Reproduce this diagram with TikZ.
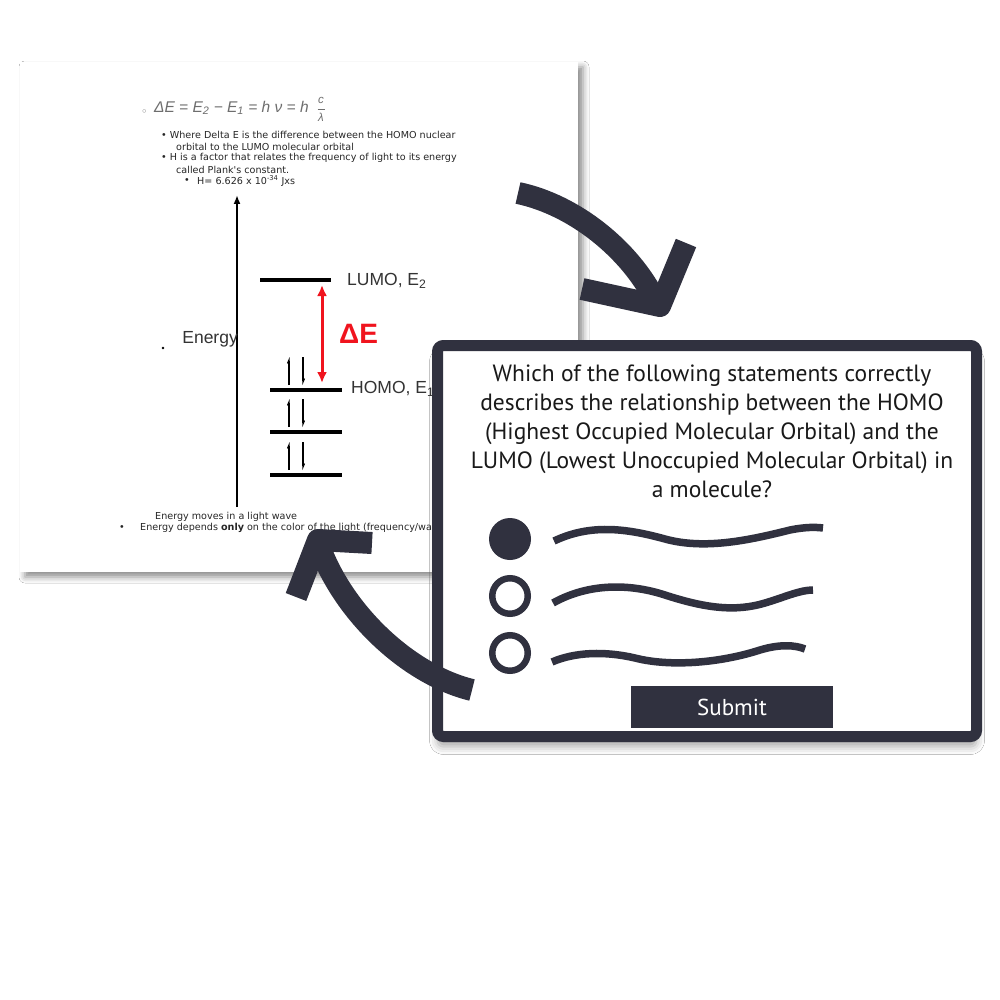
\documentclass[tikz,border=0pt]{standalone}
\usepackage{fontspec}
\setmainfont{PT Sans}
\newfontfamily\slidefont{DejaVu Sans}
\newfontfamily\labelfont{Liberation Sans}
\usetikzlibrary{arrows.meta,shadows.blur,positioning}
\definecolor{ink}{HTML}{30313F}
\definecolor{eqgray}{HTML}{6E6E6E}
\definecolor{dered}{HTML}{F0141E}

\begin{document}
\begin{tikzpicture}[x=1pt, y=-1pt,
  level/.style={line width=4pt},
  spin/.style={line width=1.2pt, -{Straight Barb[left,length=3.5pt,width=3pt]}},
  small/.style={anchor=west, inner sep=0pt, font=\slidefont\fontsize{9.6}{10}\selectfont, text=black!85},
  eqtext/.style={inner sep=0pt, text=eqgray, font=\labelfont\itshape\fontsize{15.5}{17}\selectfont},
  brush/.style={ink, line width=22pt},
  wave/.style={ink, line width=7.5pt},
  radio/.style={circle, draw=ink, line width=6.5pt, minimum size=35.5pt, inner sep=0pt}]
  \fill[white] (0,0) rectangle (1000,1000);
  \useasboundingbox (0,0) rectangle (1000,1000);

  % Slide
  \fill[white, blur shadow={shadow xshift=5pt, shadow yshift=-5pt, shadow blur radius=6pt, shadow opacity=45}] (20,62) rectangle (578,572);

  % Formula and bullets
  \node[anchor=west, inner sep=0pt, text=eqgray, font=\slidefont\fontsize{11}{12}\selectfont] (ring) at (141,113) {◦};
  \node[eqtext, anchor=west] (eqn) at (154,108) {ΔE = E\textsubscript{2} − E\textsubscript{1} = h ν = h};
  \node[eqtext, font=\labelfont\itshape\fontsize{11.5}{12}\selectfont] (num) at (321,100) {c};
  \node[eqtext, font=\labelfont\itshape\fontsize{11.5}{12}\selectfont] (den) at (321,117) {λ};
  \draw[eqgray, line width=0.5pt] ([xshift=-3.5pt]num.south |- 0,109) -- ([xshift=3.5pt]num.south |- 0,109);
  \node[small] (b1) at (161,135) {• Where Delta E is the difference between the HOMO nuclear};
  \node[small] (b1a) at (176,147) {orbital to the LUMO molecular orbital};
  \node[small] (b2) at (161,158) {• H is a factor that relates the frequency of light to its energy};
  \node[small] (b2a) at (176,170) {called Plank's constant.};
  \node[small] (b3) at (184,181) {•};
  \node[small] (b3a) at (197,181) {H= 6.626 x 10\textsuperscript{-34} Jxs};

  % Energy diagram
  \coordinate (axisB) at (237,507);
  \coordinate (axisT) at (237,195);
  \draw[line width=2pt, -{Latex[length=9pt,width=7pt]}] (axisB) -- (axisT);
  \node[anchor=east, inner sep=0pt, text=black!80, font=\labelfont\fontsize{17.5}{19}\selectfont] (energy) at (238,339) {Energy};
  \fill (163,348) circle (1.3pt);

  \coordinate (lumoL) at (260,280);  \coordinate (lumoR) at (331,280);
  \coordinate (homoL) at (270,390);  \coordinate (homoR) at (342,390);
  \coordinate (midL) at (270,432);   \coordinate (midR) at (342,432);
  \coordinate (lowL) at (270,475);   \coordinate (lowR) at (342,475);
  \draw[level] (lumoL) -- (lumoR);
  \draw[level] (homoL) -- (homoR);
  \draw[level] (midL) -- (midR);
  \draw[level] (lowL) -- (lowR);

  \node[anchor=west, inner sep=0pt, font=\labelfont\fontsize{17.5}{20}\selectfont, text=black!80] (lumo) at (347,281) {LUMO, E\textsubscript{2}};
  \node[anchor=west, inner sep=0pt, font=\labelfont\fontsize{17.5}{20}\selectfont, text=black!80] (homo) at (351,389) {HOMO, E\textsubscript{1}};

  % Delta E
  \coordinate (gapT) at (322,285);
  \coordinate (gapB) at (322,383);
  \draw[dered, line width=3pt, {Latex[length=11pt,width=10pt]}-{Latex[length=11pt,width=10pt]}] (gapT) -- (gapB);
  \node[anchor=west, inner sep=0pt, text=dered, font=\labelfont\bfseries\fontsize{28}{30}\selectfont] (dE) at (339,334) {ΔE};

  % Electrons
  \foreach \y in {385,427,470}{
    \draw[spin] (289,\y) -- (289,\y-28);
    \draw[spin] (303,\y-28) -- (303,\y);
  }

  \node[small] (b4) at (155,517) {Energy moves in a light wave};
  \node[small] (b5) at (119,528) {•};
  \node[small] (b5a) at (140,528) {Energy depends \textbf{only} on the color of the light (frequency/wa};

  % Top arrow
  \draw[brush] (518,193) .. controls (575,205) and (630,250) .. (655,300);
  \draw[brush, line join=round] (582,289) -- (660,306) -- (686,243);

  % Quiz panel
  \draw[ink, line width=11pt, fill=white, rounded corners=6pt, blur shadow={shadow xshift=0pt, shadow yshift=-10pt, shadow blur radius=8pt, shadow opacity=35}] (437.5,345.5) rectangle (976.5,736.5);
  \node[align=center, inner sep=0pt, text=black!90, font=\fontsize{23.5}{29}\selectfont] (question) at (712,431) {Which of the following statements correctly\\describes the relationship between the HOMO\\(Highest Occupied Molecular Orbital) and the\\LUMO (Lowest Unoccupied Molecular Orbital) in\\a molecule?};

  % Options
  \node[circle, fill=ink, minimum size=42pt, inner sep=0pt] (opt1) at (510,539) {};
  \node[radio] (opt2) at (510,596) {};
  \node[radio] (opt3) at (510,653) {};
  \draw[wave] (554,541) .. controls (590,524) and (625,528) .. (665,539) .. controls (705,550) and (750,540) .. (790,530) .. controls (805,527) and (815,527) .. (823,528);
  \draw[wave] (553,603) .. controls (585,585) and (625,582) .. (665,595) .. controls (705,608) and (735,612) .. (765,603) .. controls (785,597) and (800,590) .. (813,590);
  \draw[wave] (552,662) .. controls (575,652) and (605,651) .. (635,658) .. controls (670,667) and (720,663) .. (760,650) .. controls (780,644) and (795,645) .. (805,649);

  \node[fill=ink, text=white, minimum width=202pt, minimum height=42pt, inner sep=0pt, font=\fontsize{23}{26}\selectfont] (submit) at (732,707) {Submit};

  % Bottom arrow
  \draw[brush] (472,690) .. controls (410,675) and (345,615) .. (320,548);
  \draw[brush, line join=round] (296,597) -- (318,540) -- (372,543);
\end{tikzpicture}
\end{document}
